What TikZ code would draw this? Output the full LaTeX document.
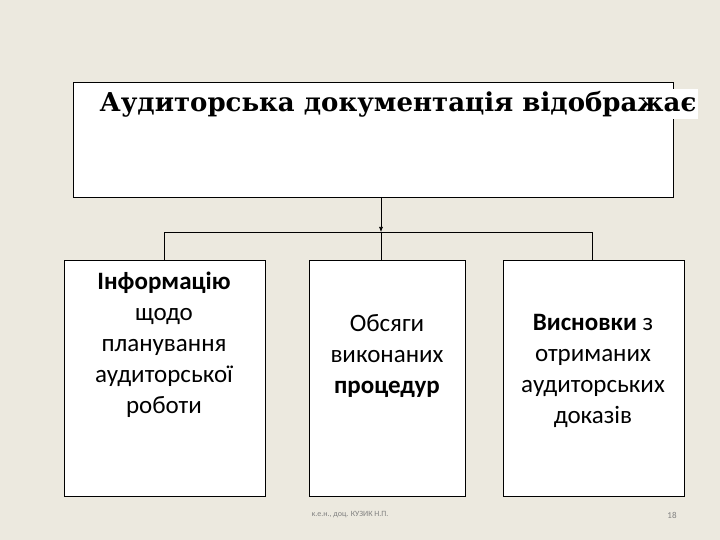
\documentclass[tikz,border=0pt]{standalone}
\usepackage{fontspec}
\usetikzlibrary{arrows.meta}
\setmainfont{Carlito}
\newfontfamily\titlefont{DejaVu Serif}
\begin{document}
\begin{tikzpicture}[x=1pt,y=-1pt,
  box/.style={draw=black,fill=white,line width=0.8pt},
  btxt/.style={align=center,font=\fontsize{25}{31}\selectfont},
  conn/.style={line width=0.6pt}]
\fill[fill={rgb,255:red,236;green,233;blue,223}] (0,0) rectangle (720,540);
\useasboundingbox (0,0) rectangle (720,540);
\draw[box] (73,82) rectangle (673,197);
\node[fill=white,inner sep=2pt,font=\titlefont\bfseries\fontsize{26}{28}\selectfont] (title) at (398,104) {Аудиторська документація відображає};
\coordinate (top) at (381,197);
\coordinate (hm) at (381,232);
\coordinate (hl) at (164,232);
\coordinate (hr) at (592,232);
\draw[box] (64,260) rectangle (265,496);
\draw[box] (309,260) rectangle (465,496);
\draw[box] (503,260) rectangle (684,496);
\coordinate (lt) at (164,260);
\coordinate (mt) at (381,260);
\coordinate (rt) at (592,260);
\draw[conn,-{Latex[length=5pt,width=4pt]}] (top) -- (hm);
\draw[conn] (hm) -- (mt);
\draw[conn] (lt) -- (hl) -- (hr) -- (rt);
\node[btxt] (a) at (164,345) {\textbf{Інформацію}\\щодо\\планування\\аудиторської\\роботи};
\node[btxt] (b) at (387,356) {Обсяги\\виконаних\\\textbf{процедур}};
\node[btxt] (c) at (593,371) {\textbf{Висновки} з\\отриманих\\аудиторських\\доказів};
\node[font=\fontsize{8}{9}\selectfont,text=gray] (f) at (350,515) {к.е.н., доц. КУЗИК Н.П.};
\node[font=\fontsize{9}{10}\selectfont,text=gray] (n) at (672,515) {18};
\end{tikzpicture}
\end{document}
